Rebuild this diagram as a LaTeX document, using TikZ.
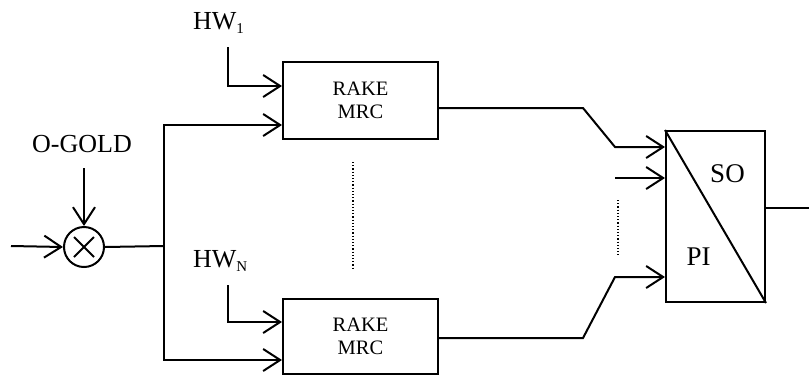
\documentclass[tikz,border=0pt]{standalone}
\usepackage{fontspec}
\setmainfont{Liberation Serif}
\usetikzlibrary{arrows.meta}
\begin{document}
\begin{tikzpicture}[x=1pt,y=-1pt,
  line width=2pt,
  arr/.style={-{Straight Barb[length=17pt,width=22pt,line width=2pt]}},
  blk/.style={draw,rectangle,inner sep=0pt},
  lbl/.style={font=\fontsize{26}{28}\selectfont,inner sep=0pt},
  rk/.style={font=\fontsize{20.5}{23}\selectfont,align=center},
  big/.style={font=\fontsize{27}{28}\selectfont,inner sep=0pt}]
\useasboundingbox (0,0) rectangle (809,376);
% blocks
\node[blk,minimum width=155pt,minimum height=77pt,rk] (rake1) at (360.5,100.5) {RAKE\\MRC};
\node[blk,minimum width=155pt,minimum height=75pt,rk] (rake2) at (360.5,336.5) {RAKE\\MRC};
\node[blk,minimum width=99pt,minimum height=171pt] (ps) at (715.5,216.5) {};
\node[draw,circle,minimum size=40pt,inner sep=0pt] (mix) at (84,247) {};
\draw ([shift={(-10,-10)}]mix.center) -- ([shift={(10,10)}]mix.center)
      ([shift={(10,-10)}]mix.center) -- ([shift={(-10,10)}]mix.center);
% labels
\node[lbl,anchor=base west] (hw1) at (192,29) {HW\raisebox{-4pt}{\fontsize{15}{15}\selectfont 1}};
\node[lbl,anchor=base west] (hwn) at (192,267) {HW\raisebox{-4pt}{\fontsize{15}{15}\selectfont N}};
\node[lbl,anchor=base] (og) at (82,152) {O-GOLD};
\node[big,anchor=base] (so) at (727.5,182) {SO};
\node[big,anchor=base] (pi) at (698.5,265) {PI};
% coordinates
\coordinate (in) at (11,246);
\coordinate (ogs) at (84,168);
\coordinate (j) at (164,246);
\coordinate (h1) at (228,47);
\coordinate (hn) at (228,285);
\coordinate (a1) at (583,108);
\coordinate (b1) at (615,147);
\coordinate (c0) at (615,178);
\coordinate (a2) at (583,338);
\coordinate (b2) at (615,277);
\coordinate (out) at (809,208);
% connectors
\draw[arr] (in) -- (mix.west);
\draw[arr] (ogs) -- (mix.north);
\draw (mix.east) -- (j);
\draw[arr] (j) |- (rake1.west |- 0,125);
\draw[arr] (j) |- (rake2.west |- 0,360);
\draw[arr] (h1) |- (rake1.west |- 0,86);
\draw[arr] (hn) |- (rake2.west |- 0,322);
\draw[arr] (rake1.east |- a1) -- (a1) -- (b1) -- (ps.west |- b1);
\draw[arr] (c0) -- (ps.west |- c0);
\draw[arr] (rake2.east |- a2) -- (a2) -- (b2) -- (ps.west |- b2);
\draw (ps.north west) -- (ps.south east);
\draw (ps.east |- out) -- (out);
% dots
\draw[dotted,line width=1.2pt] (353,162) -- (353,268);
\draw[dotted,line width=1.2pt] (618,200) -- (618,255);
\end{tikzpicture}
\end{document}
